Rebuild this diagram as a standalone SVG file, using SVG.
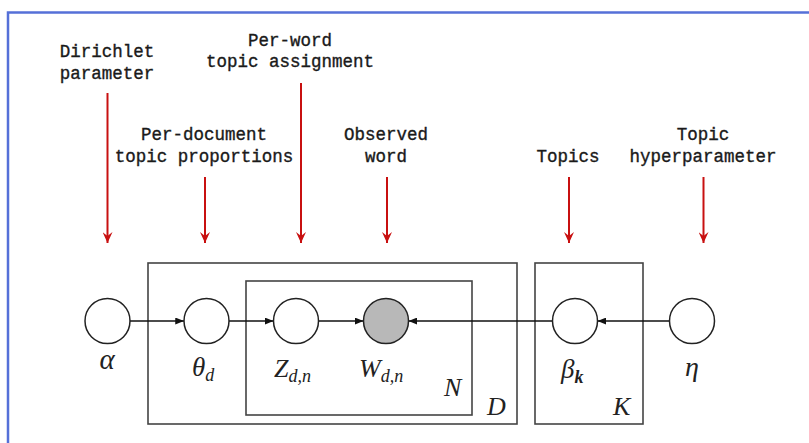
<svg xmlns="http://www.w3.org/2000/svg" width="809" height="443" viewBox="0 0 809 443">
<style>
.cap{font-family:"Liberation Mono","Courier New",monospace;font-size:17.5px;fill:#1a1a1a;stroke:#1a1a1a;stroke-width:0.35;text-anchor:middle}
.m{font-family:"Liberation Serif","Times New Roman",serif;font-style:italic;fill:#222}
.node{fill:#fff;stroke:#222;stroke-width:1.5}
.obs{fill:#b8b8b8;stroke:#222;stroke-width:1.5}
.plate{fill:none;stroke:#444;stroke-width:1.6}
.edge{stroke:#111;stroke-width:1.4;fill:none;marker-end:url(#ah)}
.red{stroke:#c81010;stroke-width:2;fill:none;marker-end:url(#rh)}
</style>
<defs>
<marker id="ah" viewBox="0 0 10 8" refX="10" refY="4" markerWidth="9" markerHeight="7" markerUnits="userSpaceOnUse" orient="auto"><path d="M0,0L10,4L0,8z" fill="#111"/></marker>
<marker id="rh" viewBox="0 0 10 12" refX="5" refY="11" markerWidth="10" markerHeight="12" markerUnits="userSpaceOnUse" orient="0"><path d="M0,0L5,11L10,0L5,4z" fill="#c81010"/></marker>
</defs>
<rect x="0" y="0" width="809" height="443" fill="#fff"/>
<path d="M8,450V12.5H815" fill="none" stroke="#5570d8" stroke-width="2.5"/>

<g id="plates">
<rect id="plate-D" class="plate" x="148" y="263" width="369" height="161"/>
<rect id="plate-N" class="plate" x="246" y="281" width="226" height="134"/>
<rect id="plate-K" class="plate" x="535" y="263" width="108" height="161"/>
<text class="m" x="444" y="396" font-size="26">N</text>
<text class="m" x="487" y="415" font-size="26">D</text>
<text class="m" x="613" y="415" font-size="26">K</text>
</g>

<g id="captions">
<text class="cap" x="107" y="57">Dirichlet</text>
<text class="cap" x="107" y="79">parameter</text>
<text class="cap" x="290" y="46">Per-word</text>
<text class="cap" x="290" y="67">topic assignment</text>
<text class="cap" x="204" y="140">Per-document</text>
<text class="cap" x="204" y="162">topic proportions</text>
<text class="cap" x="386" y="140">Observed</text>
<text class="cap" x="386" y="162">word</text>
<text class="cap" x="568" y="162">Topics</text>
<text class="cap" x="703" y="140">Topic</text>
<text class="cap" x="703" y="162">hyperparameter</text>
</g>

<g id="connectors">
<line class="red" x1="107.5" y1="93" x2="107.5" y2="243"/>
<line class="red" x1="205" y1="177" x2="205" y2="243"/>
<line class="red" x1="301" y1="83" x2="301" y2="243"/>
<line class="red" x1="387" y1="177" x2="387" y2="243"/>
<line class="red" x1="569" y1="177" x2="569" y2="243"/>
<line class="red" x1="703.5" y1="177" x2="703.5" y2="243"/>
<line class="edge" x1="130" y1="321" x2="184" y2="321"/>
<line class="edge" x1="229" y1="321" x2="273.5" y2="321"/>
<line class="edge" x1="318.5" y1="321" x2="363.5" y2="321"/>
<line class="edge" x1="552.5" y1="321" x2="408.5" y2="321"/>
<line class="edge" x1="670" y1="321" x2="597.5" y2="321"/>
</g>

<g id="node-alpha"><circle class="node" cx="107.5" cy="321" r="22.5"/><text class="m" x="107" y="369" font-size="29" text-anchor="middle">α</text></g>
<g id="node-theta"><circle class="node" cx="206.5" cy="321" r="22.5"/><text class="m" x="192" y="376" font-size="27">θ<tspan font-size="18" dy="5">d</tspan></text></g>
<g id="node-z"><circle class="node" cx="296" cy="321" r="22.5"/><text class="m" x="274" y="377" font-size="26">Z<tspan font-size="18" dy="5">d,n</tspan></text></g>
<g id="node-w"><circle class="obs" cx="386" cy="321" r="22.5"/><text class="m" x="359" y="377" font-size="26">W<tspan font-size="18" dy="5">d,n</tspan></text></g>
<g id="node-beta"><circle class="node" cx="575" cy="321" r="22.5"/><text class="m" x="561" y="378" font-size="27">β<tspan font-size="18" dy="5" font-weight="bold">k</tspan></text></g>
<g id="node-eta"><circle class="node" cx="692" cy="321" r="22.5"/><text class="m" x="692" y="376" font-size="28" text-anchor="middle">η</text></g>
</svg>
